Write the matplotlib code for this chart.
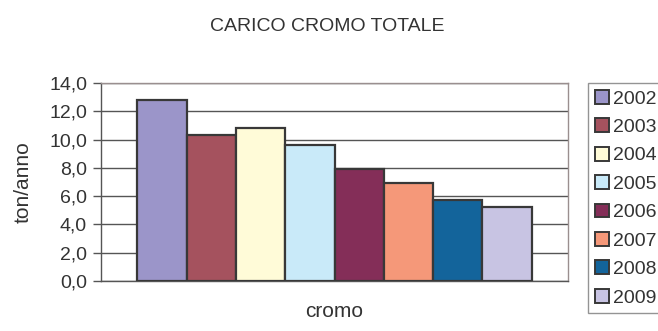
import matplotlib.pyplot as plt
from matplotlib.patches import Patch
from matplotlib.ticker import FuncFormatter

plt.rcParams['font.family'] = ['Liberation Sans', 'DejaVu Sans']

years = ['2002', '2003', '2004', '2005', '2006', '2007', '2008', '2009']
carico = [12.8, 10.3, 10.8, 9.6, 7.9, 6.9, 5.7, 5.2]
colori = ['#9b95c9', '#a5525e', '#fffbd8', '#c9eaf9', '#842e58',
          '#f59879', '#13649b', '#c8c4e3']

text_col = '#333333'

fig = plt.figure(figsize=(6.58, 3.31), dpi=100)
ax = fig.add_axes([0.1535, 0.151, 0.71, 0.598])

for i, (v, c) in enumerate(zip(carico, colori)):
    ax.bar(i - 3.5, v, width=1.0, color=c, edgecolor='#383838',
           linewidth=1.6, zorder=3)

ax.set_xlim(-4.74, 4.74)
ax.set_ylim(0, 14)
ax.set_yticks(range(0, 15, 2))
ax.yaxis.set_major_formatter(FuncFormatter(lambda v, p: f'{v:.1f}'.replace('.', ',')))
ax.set_xticks([])
ax.yaxis.grid(True, color='#555555', linewidth=1.0, zorder=0)

for s in ['top', 'right']:
    ax.spines[s].set_color('#9a8f8f')
    ax.spines[s].set_linewidth(1.0)
for s in ['left', 'bottom']:
    ax.spines[s].set_color('#555555')
    ax.spines[s].set_linewidth(1.0)

ax.tick_params(axis='y', length=6, width=1, color='#555555',
               labelsize=14, labelcolor=text_col, pad=4)

ax.set_ylabel('ton/anno', fontsize=15, color=text_col, labelpad=12)
ax.set_xlabel('cromo', fontsize=15, color=text_col, labelpad=15)

fig.text(0.497, 0.921, 'CARICO CROMO TOTALE', ha='center', va='center',
         fontsize=14, color=text_col)

handles = [Patch(facecolor=c, edgecolor='#383838', linewidth=1.4) for c in colori]
leg = fig.legend(handles, years, loc='upper left',
                 bbox_to_anchor=(0.894, 0.749), fontsize=14,
                 frameon=True, fancybox=False, handlelength=0.72,
                 handleheight=0.72, handletextpad=0.2, labelspacing=0.55,
                 borderpad=0.35, borderaxespad=0.0)
leg.get_frame().set_edgecolor('#7a7a7a')
leg.get_frame().set_linewidth(1.0)
for t in leg.get_texts():
    t.set_color(text_col)

fig.savefig('out.png', dpi=100)
